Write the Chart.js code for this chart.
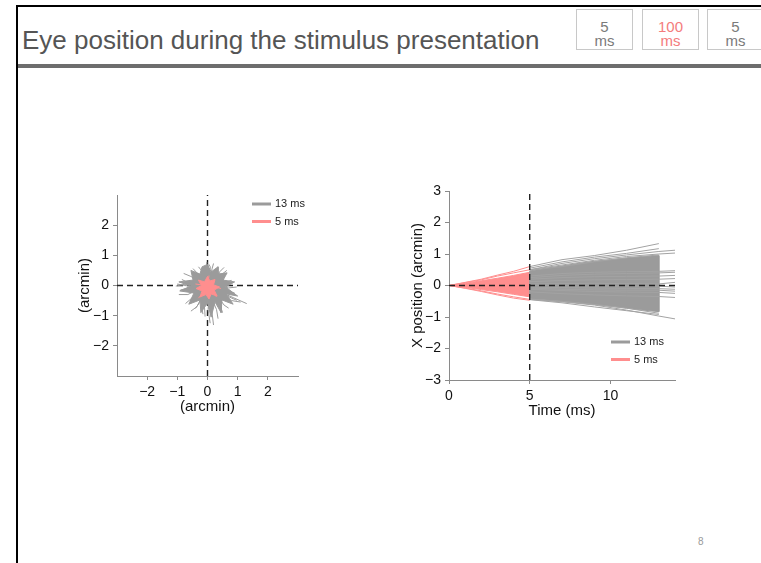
<!DOCTYPE html>
<html>
<head>
<meta charset="utf-8">
<script src="https://cdn.jsdelivr.net/npm/chart.js@4.4.0/dist/chart.umd.min.js"></script>
<style>
  html, body { margin: 0; padding: 0; background: #fff; }
  body { width: 761px; height: 563px; position: relative; overflow: hidden;
         font-family: "Liberation Sans", Arial, Helvetica, sans-serif; }
  .frame-top { position: absolute; left: 16px; top: 5px; width: 745px; height: 2px; background: #000; }
  .frame-left { position: absolute; left: 16px; top: 5px; width: 2px; height: 558px; background: #000; }
  .rule { position: absolute; left: 18px; top: 64px; width: 743px; height: 4px; background: #6d6d6d; }
  h1 { position: absolute; left: 22px; top: 27px; margin: 0; font-weight: normal; font-size: 26px;
       line-height: 26px; color: #555; white-space: nowrap; }
  .box { position: absolute; top: 9px; width: 57px; height: 41px; border: 1px solid #c8c8c8;
         box-sizing: border-box; text-align: center; font-size: 15px; line-height: 14px;
         padding-top: 10px; color: #7a7a7a; }
  .box.on { color: #f47c7c; }
  .page { position: absolute; left: 698px; top: 536px; font-size: 10px; color: #999; }
  .plot { position: absolute; }
</style>
</head>
<body>
<div class="frame-top"></div>
<div class="frame-left"></div>
<h1>Eye position during the stimulus presentation</h1>
<div class="rule"></div>
<div class="box" style="left:576px">5<br>ms</div>
<div class="box on" style="left:642px">100<br>ms</div>
<div class="box" style="left:707px">5<br>ms</div>
<div class="page">8</div>

<div class="plot" style="left:40px; top:180px"><canvas id="xyChart" width="280" height="260"></canvas></div>
<div class="plot" style="left:400px; top:170px"><canvas id="timeChart" width="300" height="270"></canvas></div>

<script>
// ---- shared ----
const legendLabels = ['13 ms', '5 ms'];
const longColor = '#9b9b9b';
const shortColor = '#ff8e8e';

// ---- left panel: 2D eye traces (arcmin) ----
const xyRange = [-3, 3];
const xyTicks = [-2, -1, 0, 1, 2];

const grayCoreXY = [
  [0.00, 0.70], [0.12, 0.45], [0.35, 0.62], [0.35, 0.38], [0.65, 0.42], [0.52, 0.18],
  [0.90, 0.12], [0.60, -0.05], [1.00, -0.35], [0.62, -0.28], [0.85, -0.62], [0.48, -0.48],
  [0.45, -0.90], [0.25, -0.55], [0.12, -1.05], [0.00, -0.58], [-0.22, -0.90], [-0.25, -0.48],
  [-0.62, -0.62], [-0.45, -0.25], [-0.92, -0.18], [-0.55, -0.02], [-0.95, 0.12], [-0.48, 0.18],
  [-0.55, 0.50], [-0.25, 0.38], [-0.18, 0.62], [0.00, 0.70]
];

const grayRaysXY = [
  [[0, 0], [0.02, 0.35], [-0.05, 0.55], [-0.02, 0.78]],
  [[0, 0], [0.10, 0.30], [0.15, 0.55], [0.20, 0.73]],
  [[0, 0], [-0.20, 0.25], [-0.35, 0.42], [-0.48, 0.56]],
  [[0, 0], [-0.30, 0.15], [-0.55, 0.30], [-0.79, 0.40]],
  [[0, 0], [-0.35, 0.02], [-0.70, 0.05], [-1.05, -0.02]],
  [[0, 0], [-0.30, -0.10], [-0.60, -0.08], [-0.90, -0.15]],
  [[0, 0], [-0.25, -0.25], [-0.50, -0.40], [-0.73, -0.60]],
  [[0, 0], [-0.15, -0.30], [-0.25, -0.55], [-0.40, -0.76]],
  [[0, 0], [0.05, -0.40], [0.02, -0.80], [0.09, -1.25]],
  [[0, 0], [0.10, -0.50], [0.15, -0.90], [0.20, -1.31]],
  [[0, 0], [-0.05, -0.40], [-0.10, -0.70], [-0.08, -1.03]],
  [[0, 0], [0.40, -0.20], [0.85, -0.40], [1.30, -0.60]],
  [[0, 0], [0.35, -0.15], [0.65, -0.35], [0.97, -0.49]],
  [[0, 0], [0.35, 0.00], [0.70, -0.08], [0.97, -0.05]],
  [[0, 0], [0.30, 0.10], [0.55, 0.10], [0.80, 0.17]],
  [[0, 0], [0.20, 0.20], [0.45, 0.35], [0.64, 0.50]],
  [[0, 0], [0.20, 0.15], [0.30, 0.30], [0.42, 0.40]],
  [[0, 0], [0.25, -0.35], [0.40, -0.60], [0.50, -0.90]],
  [[0, 0], [0.30, -0.30], [0.55, -0.65], [0.70, -0.75]],
  [[0, 0], [-0.10, -0.35], [-0.20, -0.70], [-0.15, -0.95]],
  [[0, 0], [-0.30, 0.10], [-0.55, 0.05], [-0.85, 0.20]],
  [[0, 0], [-0.15, 0.30], [-0.20, 0.50], [-0.30, 0.62]],
  [[0, 0], [0.05, 0.40], [0.10, 0.60], [0.05, 0.70]],
  [[0, 0], [0.30, 0.25], [0.40, 0.45], [0.55, 0.60]],
  [[0, 0], [0.40, -0.05], [0.70, -0.20], [0.90, -0.25]],
  [[0, 0], [-0.35, -0.15], [-0.65, -0.30], [-0.95, -0.30]],
  [[0, 0], [0.45, -0.30], [0.80, -0.50], [1.10, -0.55]],
  [[0, 0], [-0.40, -0.05], [-0.75, 0.00], [-1.00, 0.05]],
  [[0, 0], [0.15, -0.45], [0.30, -0.80], [0.35, -1.10]],
  [[0, 0], [-0.20, -0.40], [-0.35, -0.70], [-0.55, -0.85]]
];

const pinkCoreXY = [
  [0.00, 0.30], [0.08, 0.15], [0.25, 0.20], [0.20, 0.02], [0.40, -0.05], [0.22, -0.15],
  [0.32, -0.35], [0.12, -0.28], [0.05, -0.45], [-0.05, -0.30], [-0.25, -0.38], [-0.18, -0.18],
  [-0.38, -0.10], [-0.20, 0.00], [-0.30, 0.18], [-0.10, 0.12], [0.00, 0.30]
];

const pinkRaysXY = [
  [[0, 0], [0.03, 0.20], [0.05, 0.33]],
  [[0, 0], [0.25, -0.05], [0.45, -0.10]],
  [[0, 0], [-0.15, -0.25], [-0.30, -0.42]],
  [[0, 0], [0.15, -0.20], [0.30, -0.38]],
  [[0, 0], [-0.20, 0.02], [-0.40, 0.05]]
];

// ---- right panel: horizontal position over time ----
const timeRange = [0, 14];
const timeTicks = [0, 5, 10];
const posRange = [-3, 3];
const posTicks = [-3, -2, -1, 0, 1, 2, 3];
const stimOnset = 5;

const shortT = [0, 1, 2, 3, 4, 5];
const shortUpper = [0, 0.07, 0.15, 0.23, 0.32, 0.42];
const shortLower = [0, -0.06, -0.13, -0.20, -0.28, -0.36];
const shortTraces = [
  [0, 0.10, 0.20, 0.33, 0.45, 0.60],
  [0, 0.09, 0.18, 0.30, 0.40, 0.50],
  [0, -0.08, -0.17, -0.27, -0.36, -0.44],
  [0, -0.09, -0.19, -0.30, -0.40, -0.47]
];

const longBandT = [5, 6, 7, 8, 9, 10, 11, 12, 13];
const longUpper = [0.46, 0.55, 0.62, 0.70, 0.77, 0.82, 0.87, 0.91, 0.95];
const longLower = [-0.42, -0.46, -0.50, -0.55, -0.60, -0.66, -0.72, -0.78, -0.83];

const longT = [5, 7, 9, 11, 13, 14];
const longTraces = [
  [0.60, 0.82, 0.95, 1.12, 1.33, null],
  [0.55, 0.75, 0.90, 1.02, 1.17, null],
  [0.50, 0.70, 0.85, 0.97, 1.08, 1.12],
  [0.50, 0.65, 0.80, 0.92, 1.00, 1.03],
  [0.48, 0.60, 0.75, 0.88, 0.97, null],
  [0.30, 0.38, 0.42, 0.44, 0.45, 0.47],
  [0.25, 0.32, 0.36, 0.38, 0.40, 0.42],
  [0.20, 0.25, 0.28, 0.29, 0.30, 0.32],
  [0.12, 0.16, 0.18, 0.19, 0.20, 0.22],
  [0.05, 0.06, 0.07, 0.06, 0.05, 0.10],
  [0.00, -0.01, -0.02, -0.02, -0.02, -0.05],
  [-0.05, -0.07, -0.08, -0.09, -0.10, -0.12],
  [-0.08, -0.12, -0.14, -0.15, -0.15, -0.18],
  [-0.12, -0.16, -0.19, -0.21, -0.22, -0.25],
  [-0.20, -0.26, -0.30, -0.33, -0.35, -0.38],
  [-0.45, -0.55, -0.68, -0.80, -0.92, null],
  [-0.44, -0.52, -0.62, -0.78, -0.97, -1.06],
  [-0.43, -0.50, -0.60, -0.72, -0.88, null]
];

// ---- helpers ----
const fontFamily = '"Liberation Sans", Arial, Helvetica, sans-serif';
Chart.defaults.font.family = fontFamily;

const minus = v => String(v).replace('-', '\u2212');

function path(points, color, width, extra) {
  return Object.assign({
    data: points.filter(p => p[1] !== null).map(([x, y]) => ({ x, y })),
    showLine: true,
    borderColor: color,
    backgroundColor: color,
    borderWidth: width,
    pointRadius: 0,
    fill: false,
    tension: 0
  }, extra || {});
}

function traceOver(t, values) {
  return t.map((x, i) => [x, values[i]]);
}

function band(t, upper, lower) {
  const top = traceOver(t, upper);
  const bottom = traceOver(t, lower).reverse();
  return top.concat(bottom, [top[0]]);
}

// first dataset in the list is drawn at the bottom
function stack(list) {
  return list.map((d, i) => Object.assign(d, { order: list.length - i }));
}

function axis(horizontal, range, ticks, title, size, titlePad) {
  return {
    type: 'linear',
    min: range[0],
    max: range[1],
    afterBuildTicks: s => { s.ticks = ticks.map(v => ({ value: v })); },
    afterFit: s => { if (horizontal) s.height = size; else s.width = size; },
    grid: { drawOnChartArea: false, drawTicks: true, tickLength: 4, color: '#8a8a8a', lineWidth: 1 },
    border: { display: true, color: '#8a8a8a', width: 1 },
    ticks: {
      color: '#111', font: { size: 14 }, padding: horizontal ? 4 : 4,
      maxRotation: 0, autoSkip: false, callback: v => minus(v)
    },
    title: { display: true, text: title, color: '#111', font: { size: 15 }, padding: titlePad }
  };
}

const cornerLegend = {
  id: 'cornerLegend',
  afterDraw(chart, args, opts) {
    const { ctx, chartArea } = chart;
    ctx.save();
    ctx.font = '11px ' + fontFamily;
    ctx.textBaseline = 'middle';
    ctx.fillStyle = '#222';
    legendLabels.forEach((label, i) => {
      const y = chartArea.top + opts.y + i * opts.gap;
      const x0 = chartArea.left + opts.x;
      ctx.strokeStyle = opts.colors[i];
      ctx.lineWidth = 3;
      ctx.beginPath();
      ctx.moveTo(x0, y);
      ctx.lineTo(x0 + 19, y);
      ctx.stroke();
      ctx.fillText(label, x0 + 23, y);
    });
    ctx.restore();
  }
};

const dash = { borderDash: [6, 4] };

// ---- left chart ----
new Chart(document.getElementById('xyChart'), {
  type: 'scatter',
  data: {
    datasets: stack([
      path([[xyRange[0], 0], [xyRange[1], 0]], '#222', 1.4, dash),
      path([[0, xyRange[0]], [0, xyRange[1]]], '#222', 1.4, dash),
      ...grayRaysXY.map(r => path(r, longColor, 1)),
      path(grayCoreXY, longColor, 1, { fill: 'shape' }),
      ...pinkRaysXY.map(r => path(r, shortColor, 1)),
      path(pinkCoreXY, shortColor, 1, { fill: 'shape' })
    ])
  },
  options: {
    responsive: false,
    animation: false,
    devicePixelRatio: 1,
    layout: { padding: { left: 27, top: 15, right: 22, bottom: 19 } },
    scales: {
      x: axis(true, xyRange, xyTicks, '(arcmin)', 45, { top: 0, bottom: 5 }),
      y: axis(false, xyRange, xyTicks, '(arcmin)', 50, { top: 9, bottom: 0 })
    },
    plugins: {
      legend: { display: false },
      tooltip: { enabled: false },
      cornerLegend: { x: 135, y: 9, gap: 17.5, colors: [longColor, shortColor] }
    }
  },
  plugins: [cornerLegend]
});

// ---- right chart ----
new Chart(document.getElementById('timeChart'), {
  type: 'scatter',
  data: {
    datasets: stack([
      path(band(shortT, shortUpper, shortLower), shortColor, 1, { fill: 'shape' }),
      ...shortTraces.map(v => path(traceOver(shortT, v), shortColor, 1)),
      path(band(longBandT, longUpper, longLower), longColor, 1, { fill: 'shape' }),
      ...longTraces.map(v => path(traceOver(longT, v), '#a3a3a3', 1)),
      path([[timeRange[0], 0], [timeRange[1], 0]], '#222', 1.4, dash),
      path([[stimOnset, posRange[0]], [stimOnset, posRange[1]]], '#222', 1.4, dash)
    ])
  },
  options: {
    responsive: false,
    animation: false,
    devicePixelRatio: 1,
    layout: { padding: { left: 4, top: 21, right: 25, bottom: 15 } },
    scales: {
      x: axis(true, timeRange, timeTicks, 'Time (ms)', 45, { top: 0, bottom: 5 }),
      y: axis(false, posRange, posTicks, 'X position (arcmin)', 45, { top: 5, bottom: 0 })
    },
    plugins: {
      legend: { display: false },
      tooltip: { enabled: false },
      cornerLegend: { x: 162, y: 151, gap: 17.5, colors: [longColor, shortColor] }
    }
  },
  plugins: [cornerLegend]
});
</script>
</body>
</html>
